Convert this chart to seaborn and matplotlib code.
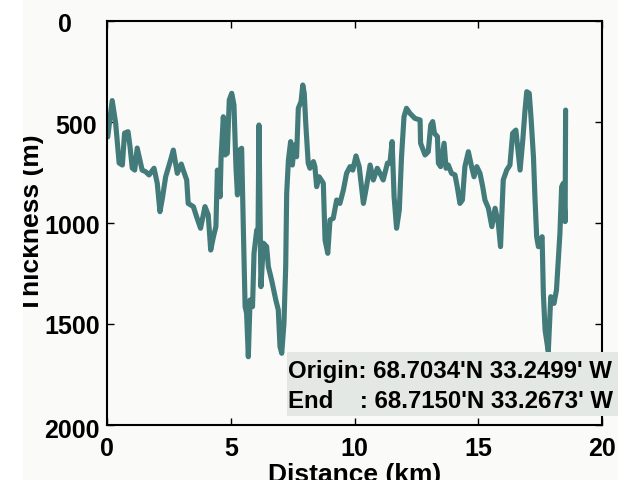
import matplotlib
matplotlib.use("Agg")
import matplotlib.pyplot as plt
import numpy as np
import pandas as pd
import seaborn as sns
from matplotlib.patches import Rectangle
from matplotlib.transforms import ScaledTranslation

# Along-track profile of ice thickness
distance_km = [
    0.03, 0.21, 0.35, 0.49, 0.62, 0.71, 0.85, 0.93, 1.02, 1.12, 1.22, 1.33, 1.42,
    1.56, 1.70, 1.90, 2.03, 2.14, 2.24, 2.37, 2.57, 2.68, 2.84, 3.00, 3.08, 3.22,
    3.28, 3.49, 3.62, 3.78, 3.96, 4.09, 4.19, 4.30, 4.40, 4.46, 4.57, 4.61, 4.70,
    4.77, 4.86, 4.94, 5.04, 5.13, 5.21, 5.27, 5.35, 5.44, 5.51, 5.58, 5.64, 5.71,
    5.78, 5.88, 5.94, 6.05, 6.10, 6.14, 6.22, 6.32, 6.45, 6.52, 6.65, 6.82, 6.92,
    6.99, 7.06, 7.15, 7.22, 7.26, 7.33, 7.42, 7.49, 7.57, 7.66, 7.73, 7.84, 7.91,
    7.97, 8.03, 8.13, 8.20, 8.34, 8.40, 8.47, 8.57, 8.74, 8.81, 8.92, 9.01, 9.14,
    9.28, 9.41, 9.55, 9.68, 9.82, 9.93, 10.06, 10.19, 10.36, 10.46, 10.63, 10.76,
    10.92, 11.03, 11.16, 11.33, 11.43, 11.52, 11.60, 11.70, 11.81, 11.90, 12.00,
    12.10, 12.24, 12.44, 12.65, 12.67, 12.85, 12.98, 13.08, 13.16, 13.23, 13.35,
    13.39, 13.48, 13.62, 13.70, 13.79, 13.92, 14.06, 14.15, 14.26, 14.36, 14.46,
    14.60, 14.73, 14.83, 14.94, 15.07, 15.18, 15.27, 15.41, 15.55, 15.68, 15.81,
    15.90, 16.01, 16.15, 16.28, 16.39, 16.52, 16.69, 16.80, 16.89, 16.96, 17.06,
    17.13, 17.23, 17.29, 17.36, 17.43, 17.52, 17.58, 17.63, 17.70, 17.83, 17.93,
    18.06, 18.16, 18.30, 18.37, 18.44, 18.51, 18.53,
]
thickness_m = [
    574, 394, 506, 703, 713, 555, 548, 622, 728, 738, 629, 688, 738,
    746, 762, 729, 803, 944, 876, 771, 688, 639, 754, 708, 738, 787,
    903, 919, 969, 1026, 919, 960, 1134, 1068, 1018, 738, 870, 672, 474,
    663, 655, 391, 358, 416, 721, 861, 639, 630, 1035, 1414, 1447, 1662,
    1381, 1414, 1150, 1035, 1084, 515, 1315, 1100, 1117, 1216, 1282, 1381, 1430,
    1612, 1645, 1496, 1216, 853, 688, 597, 713, 614, 672, 432, 399, 317,
    358, 506, 704, 729, 696, 721, 820, 771, 803, 1084, 1150, 985, 977,
    886, 903, 837, 754, 721, 738, 668, 721, 903, 837, 713, 787,
    729, 754, 787, 704, 704, 597, 870, 1026, 936, 672, 474,
    432, 457, 482, 490, 605, 663, 647, 515, 498, 556, 572,
    704, 721, 605, 729, 713, 754, 762, 820, 903, 886, 721,
    647, 721, 771, 721, 754, 820, 886, 927, 1018, 927, 1001,
    1117, 787, 738, 713, 556, 540, 738, 589, 441, 350, 358,
    474, 672, 870, 1068, 1117, 1084, 1068, 1348, 1530, 1637, 1365,
    1398, 1332, 1051, 820, 803, 993, 441,
]

x_ticks = [0, 5, 10, 15, 20]
y_ticks = [0, 500, 1000, 1500, 2000]
origin_text = "Origin: 68.7034'N 33.2499' W"
end_text = "End    : 68.7150'N 33.2673' W"

BG = "#fafaf8"
LINE = "#427b7a"
BOX = "#e3e8e4"

sns.set_theme(style="ticks")
plt.rcParams["font.family"] = ["Liberation Sans", "DejaVu Sans"]
plt.rcParams["font.weight"] = "bold"
plt.rcParams["text.color"] = "black"
plt.rcParams["axes.labelcolor"] = "black"
plt.rcParams["xtick.color"] = "black"
plt.rcParams["ytick.color"] = "black"

df = pd.DataFrame({"dist": distance_km, "thick": thickness_m})

fig = plt.figure(figsize=(6.18, 4.84), dpi=100, facecolor=BG)
ax = fig.add_axes([107 / 618, 1 - 425 / 484, 495 / 618, 404 / 484])
ax.set_facecolor(BG)

sns.lineplot(data=df, x="dist", y="thick", sort=False, estimator=None,
             color=LINE, linewidth=3.7, ax=ax, solid_joinstyle="round")

ax.set_xlim(0, 20)
ax.set_ylim(2000, 0)
ax.set_xticks(x_ticks)
ax.set_yticks(y_ticks)
ax.set_xticklabels([str(v) for v in x_ticks])
ax.set_yticklabels([str(v) for v in y_ticks])
ax.tick_params(direction="in", length=5, width=1, top=True, right=True,
               labelsize=18, colors="black", labelcolor="black")
ax.tick_params(axis="x", pad=8.5)
ax.tick_params(axis="y", pad=5)
for s in ax.spines.values():
    s.set_visible(True)
    s.set_color("black")
    s.set_linewidth(1.5)

# nudge y tick labels the way the original layout places them
shifts = {0: (-28, -2), 1: (-3, -2), 2: (0, -2), 3: (0, -1), 4: (0, -4)}
for i, lab in enumerate(ax.get_yticklabels()):
    dx, dy = shifts[i]
    lab.set_transform(lab.get_transform() + ScaledTranslation(dx / 100, dy / 100, fig.dpi_scale_trans))

ax.set_xlabel("Distance (km)", fontsize=19, fontweight="bold", color="black")
ax.set_ylabel("Thickness (m)", fontsize=19, fontweight="bold", color="black")
ax.xaxis.set_label_coords(0.5, -0.093)
ax.yaxis.set_label_coords(-0.127, 0.5)

# coordinate box
ax.add_patch(Rectangle((0.3636, 0.0223), 0.70, 0.1584, transform=ax.transAxes,
                       facecolor=BOX, edgecolor="none", clip_on=False, zorder=5))
ax.text(0.3657, 0.1163, origin_text, transform=ax.transAxes, fontsize=17.3,
        fontweight="bold", va="baseline", ha="left", zorder=6, clip_on=False,
        color="black")
ax.text(0.3657, 0.042, end_text, transform=ax.transAxes, fontsize=17.3,
        fontweight="bold", va="baseline", ha="left", zorder=6, clip_on=False,
        color="black")

# plain margins at the left and bottom edges
fig.add_artist(Rectangle((0, 0), 23 / 618, 1, transform=fig.transFigure,
                         facecolor="white", edgecolor="none", zorder=20))
fig.add_artist(Rectangle((0, 0), 1, 4 / 484, transform=fig.transFigure,
                         facecolor="white", edgecolor="none", zorder=20))

fig.savefig("out.png", dpi=100, facecolor=fig.get_facecolor())
